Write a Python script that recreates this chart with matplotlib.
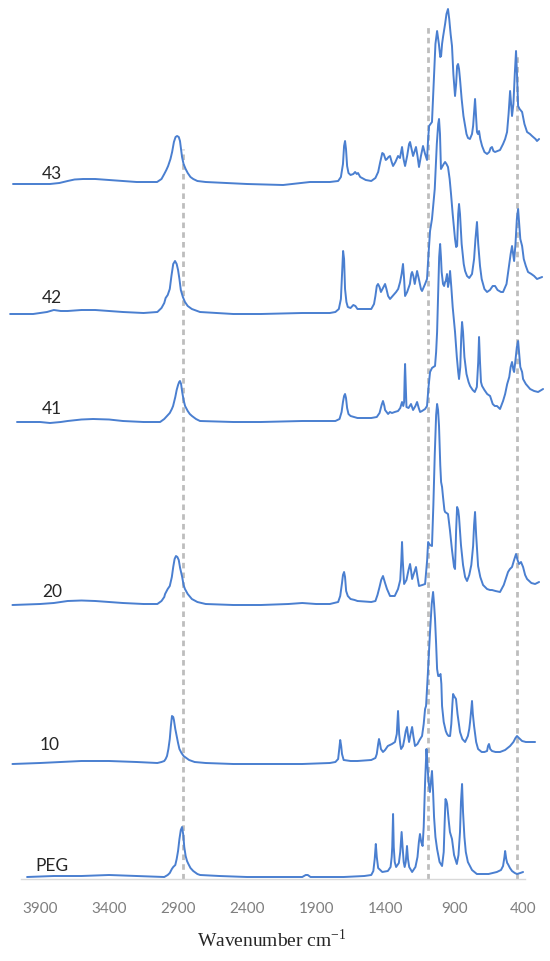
import matplotlib
matplotlib.use("Agg")
import matplotlib.pyplot as plt
import numpy as np

# =========================
# data (wavenumber cm-1, intensity a.u.)
# =========================
wn_43 = [4096, 3900, 3828, 3760, 3700, 3650, 3588, 3500, 3400, 3300, 3200, 3100, 3052, 3020, 3000, 2985, 2972,
         2955, 2943, 2930, 2918, 2907, 2895, 2886, 2878, 2871, 2860, 2845, 2830, 2810, 2790, 2760, 2700,
         2400, 2139, 1944, 1800, 1740, 1720, 1705, 1697, 1690, 1683, 1675, 1665, 1650, 1630, 1617, 1605,
         1596, 1580, 1540, 1500, 1470, 1450, 1435, 1420, 1410, 1395, 1386, 1375, 1364, 1352, 1342, 1325,
         1306, 1292, 1277, 1266, 1255, 1240, 1226, 1219, 1208, 1197, 1185, 1176, 1165, 1154, 1140, 1125,
         1110, 1096, 1088, 1081, 1070, 1060, 1048, 1035, 1023, 1010, 1000, 994, 987, 980, 965, 955, 944,
         935, 925, 915, 905, 893, 885, 878, 871, 864, 857, 845, 832, 820, 810, 799, 785, 770, 762, 755,
         748, 742, 734, 727, 719, 710, 697, 680, 661, 645, 635, 625, 615, 603, 585, 567, 545, 530, 516,
         505, 494, 487, 480, 470, 460, 451, 444, 436, 425, 407, 390, 371, 350, 335, 310, 299, 284]
ab_43 = [0, 0, 0, 1, 3, 4.5, 5, 5, 4, 3, 2, 2, 2, 5, 10, 14, 18,
         25, 32, 42, 47, 48, 47, 43, 34, 27, 20, 15, 11, 7, 5, 3, 2,
         0, -1, 2, 2, 3, 7, 20, 38, 43, 35, 18, 11, 9, 10, 12, 10,
         11, 7, 4, 3, 6, 12, 22, 31, 30, 24, 25, 27, 28, 22, 18, 22,
         28, 26, 37, 25, 18, 28, 40, 42, 35, 28, 33, 37, 28, 17, 28, 38,
         30, 24, 45, 58, 60, 62, 100, 140, 153, 140, 127, 128, 140, 147, 160, 170, 175,
         165, 150, 138, 110, 88, 100, 118, 120, 115, 105, 85, 68, 58, 50, 46, 45, 50, 58, 72,
         85, 70, 52, 50, 53, 45, 38, 32, 30, 32, 36, 37, 33, 32, 33, 34, 40, 45, 52,
         70, 93, 80, 68, 80, 110, 133, 110, 78, 75, 72, 60, 52, 50, 48, 45, 43, 45]

wn_42 = [4117, 3950, 3850, 3800, 3750, 3700, 3600, 3500, 3400, 3300, 3150, 3050, 3020, 3000, 2990, 2975, 2960,
         2948, 2935, 2922, 2910, 2900, 2890, 2880, 2865, 2850, 2830, 2800, 2741, 2500, 2300, 2000, 1800,
         1760, 1735, 1720, 1712, 1704, 1697, 1690, 1680, 1670, 1650, 1630, 1615, 1600, 1500, 1480, 1470,
         1460, 1451, 1440, 1430, 1415, 1400, 1390, 1378, 1364, 1345, 1320, 1305, 1291, 1280, 1270, 1262,
         1255, 1240, 1220, 1210, 1204, 1195, 1185, 1175, 1168, 1155, 1140, 1132, 1110, 1096, 1085, 1074,
         1060, 1050, 1040, 1025, 1015, 1009, 1002, 995, 987, 975, 965, 955, 944, 932, 922, 910, 900, 893,
         885, 878, 870, 864, 857, 845, 830, 820, 806, 790, 770, 755, 745, 734, 725, 712, 700, 680, 661,
         640, 620, 603, 585, 560, 545, 520, 500, 490, 480, 470, 465, 455, 445, 436, 428, 420, 407, 395,
         380, 364, 340, 320, 299, 262]
ab_42 = [0, 0, 2, 4, 3, 3, 4, 4, 3, 2, 1, 2, 6, 11, 16, 19, 25,
         38, 50, 53, 50, 44, 35, 24, 17, 12, 8, 5, 2, 0, 0, 1, 1,
         2, 5, 15, 40, 63, 55, 25, 12, 7, 6, 9, 8, 5, 5, 10, 18,
         28, 30, 27, 22, 26, 30, 25, 18, 15, 18, 22, 25, 32, 40, 50, 35,
         18, 22, 30, 40, 42, 38, 30, 38, 43, 35, 25, 23, 30, 35, 60, 83,
         95, 110, 125, 170, 190, 195, 180, 145, 147, 150, 152, 150, 147, 135, 120, 100, 85, 75,
         67, 68, 100, 110, 100, 70, 50, 43, 38, 36, 40, 55, 75, 92, 70, 48, 35, 25, 22,
         24, 28, 28, 24, 22, 22, 30, 50, 60, 68, 58, 53, 70, 95, 105, 90, 75, 68, 55,
         48, 42, 40, 38, 35, 37]

wn_41 = [4067, 3900, 3828, 3750, 3700, 3600, 3516, 3400, 3300, 3150, 3030, 3000, 2980, 2960, 2945, 2936, 2920,
         2910, 2900, 2892, 2886, 2878, 2870, 2860, 2849, 2830, 2815, 2799, 2770, 2741, 2500, 2300, 2000,
         1760, 1730, 1715, 1705, 1697, 1690, 1683, 1675, 1665, 1650, 1600, 1500, 1460, 1440, 1425, 1415,
         1405, 1400, 1378, 1365, 1350, 1330, 1306, 1290, 1277, 1268, 1262, 1258, 1255, 1252, 1245, 1230,
         1212, 1197, 1180, 1168, 1156, 1146, 1132, 1110, 1096, 1085, 1074, 1060, 1050, 1038, 1030, 1023,
         1015, 1008, 1001, 995, 990, 980, 972, 965, 960, 951, 944, 937, 929, 920, 910, 900, 893, 880,
         870, 864, 855, 848, 842, 835, 825, 810, 795, 784, 765, 750, 735, 725, 719, 712, 705, 697, 680,
         660, 639, 620, 605, 589, 567, 545, 530, 515, 500, 490, 480, 470, 465, 455, 445, 436, 428, 420,
         407, 400, 380, 349, 320, 291, 255]
ab_41 = [0, 0, -1, 0, 1, 2.5, 3, 2.5, 1, 0, 0, 3, 6, 9, 13, 16, 25,
         32, 37, 40, 41, 38, 30, 22, 16, 11, 8, 6, 3, 1, 0, 0, 1,
         1, 3, 10, 20, 26, 28, 24, 14, 8, 6, 4, 4, 5, 9, 17, 21,
         16, 12, 8, 10, 9, 10, 11, 14, 20, 16, 20, 45, 58, 45, 15, 14,
         18, 12, 16, 20, 14, 10, 11, 13, 16, 35, 50, 54, 55, 56, 70, 90,
         130, 165, 178, 165, 150, 138, 136, 140, 141, 148, 135, 140, 151, 135, 115, 100, 90, 65,
         50, 43, 55, 85, 100, 90, 65, 48, 40, 36, 32, 30, 35, 60, 85, 60, 40, 36, 32,
         28, 26, 18, 16, 16, 13, 21, 28, 38, 45, 55, 60, 52, 50, 62, 75, 81, 68, 55,
         50, 43, 38, 33, 31, 30, 33]

wn_20 = [4100, 3900, 3800, 3700, 3600, 3500, 3400, 3300, 3150, 3050, 3020, 3000, 2994, 2975, 2960, 2945, 2935,
         2925, 2915, 2905, 2895, 2885, 2870, 2860, 2850, 2830, 2800, 2760, 2700, 2500, 2300, 2100, 2000,
         1900, 1800, 1740, 1725, 1712, 1705, 1697, 1690, 1682, 1670, 1650, 1620, 1600, 1500, 1470, 1455,
         1440, 1428, 1415, 1400, 1386, 1364, 1330, 1306, 1290, 1282, 1277, 1272, 1262, 1245, 1230, 1219,
         1212, 1204, 1190, 1176, 1165, 1154, 1130, 1110, 1095, 1088, 1075, 1060, 1050, 1040, 1030, 1023,
         1016, 1009, 1000, 994, 987, 980, 970, 965, 955, 944, 930, 915, 900, 893, 885, 878, 870, 864,
         850, 835, 820, 806, 790, 775, 762, 755, 748, 740, 726, 710, 690, 661, 640, 625, 600, 567, 540,
         509, 495, 480, 465, 451, 440, 429, 415, 400, 385, 371, 340, 313, 284]
ab_20 = [0, 1, 2, 4, 4.5, 4, 3, 2, 1, 1, 4, 8, 11, 16, 19, 28, 38,
         46, 49, 48, 45, 37, 28, 20, 16, 11, 6, 3, 1, 0, 0, 1, 2,
         1, 1, 3, 9, 22, 30, 33, 28, 14, 9, 6, 5, 4, 3, 4, 10,
         18, 25, 29, 22, 16, 9, 9, 16, 25, 45, 63, 45, 21, 25, 35, 41,
         35, 26, 32, 38, 28, 19, 20, 21, 45, 63, 60, 59, 100, 150, 190, 201,
         195, 179, 140, 123, 118, 108, 95, 93, 92, 91, 75, 55, 38, 36, 75, 98, 95, 88,
         60, 40, 28, 24, 30, 40, 59, 80, 93, 70, 39, 28, 20, 16, 15, 15, 14, 13, 20,
         33, 36, 38, 45, 51, 45, 41, 43, 38, 30, 26, 22, 21, 23]

wn_10 = [4100, 3900, 3750, 3600, 3400, 3200, 3050, 3020, 3000, 2990, 2980, 2970, 2960, 2952, 2944, 2935, 2930,
         2920, 2910, 2900, 2890, 2875, 2860, 2840, 2820, 2780, 2700, 2500, 2000, 1800, 1760, 1740, 1732,
         1725, 1718, 1712, 1700, 1650, 1600, 1500, 1470, 1460, 1450, 1444, 1436, 1430, 1415, 1400, 1380,
         1350, 1328, 1315, 1306, 1298, 1290, 1284, 1270, 1260, 1250, 1241, 1233, 1226, 1215, 1204, 1195,
         1183, 1165, 1150, 1132, 1120, 1110, 1103, 1090, 1075, 1062, 1052, 1045, 1038, 1030, 1023, 1015,
         1009, 998, 992, 987, 975, 960, 951, 940, 929, 920, 912, 907, 900, 886, 875, 857, 840, 820, 800,
         790, 784, 775, 770, 764, 755, 740, 726, 700, 680, 661, 654, 647, 638, 625, 600, 567, 530, 494,
         470, 455, 444, 430, 407, 380, 340, 313]
ab_10 = [0, 1, 2, 3, 3, 2, 1, 2, 3, 5, 8, 15, 25, 38, 48, 47, 44,
         35, 28, 21, 15, 11, 8, 6, 4, 2, 1, 0, 0, 1, 2, 5, 15,
         24, 18, 10, 4, 3, 3, 4, 6, 10, 20, 25, 20, 15, 12, 14, 18,
         20, 22, 30, 53, 30, 20, 15, 18, 25, 33, 37, 28, 22, 30, 37, 28,
         18, 20, 24, 28, 40, 55, 58, 90, 130, 160, 172, 160, 145, 120, 95, 88,
         88, 90, 80, 58, 42, 33, 30, 28, 28, 40, 60, 70, 68, 65, 50, 32, 25, 22, 28,
         35, 42, 55, 63, 50, 38, 22, 15, 12, 12, 13, 18, 20, 15, 13, 12, 12, 14, 18,
         22, 26, 28, 26, 23, 22, 22, 22]

wn_peg = [3994, 3800, 3600, 3400, 3200, 3000, 2975, 2960, 2945, 2935, 2920, 2910, 2900, 2890, 2880, 2871, 2862,
          2855, 2845, 2835, 2825, 2810, 2790, 2760, 2740, 2600, 2400, 2000, 1975, 1960, 1940, 1700, 1550,
          1500, 1485, 1475, 1467, 1460, 1450, 1420, 1380, 1360, 1352, 1348, 1342, 1337, 1330, 1320, 1300,
          1290, 1280, 1273, 1265, 1258, 1250, 1241, 1234, 1225, 1204, 1180, 1165, 1155, 1147, 1138, 1128,
          1120, 1110, 1100, 1092, 1085, 1075, 1068, 1060, 1052, 1045, 1035, 1023, 1005, 987, 975, 968, 962,
          955, 950, 940, 930, 915, 900, 880, 868, 857, 850, 842, 835, 825, 815, 800, 770, 735, 650, 590,
          560, 545, 535, 530, 522, 515, 510, 495, 480, 460, 444, 420, 400]
ab_peg = [0, 1, 1, 2, 1, 0, 2, 4, 8, 10, 12, 18, 26, 38, 47, 50, 42,
          30, 21, 16, 13, 9, 6, 3, 2, 1, 0, 0, 2, 2, 0, 0, 1,
          2, 6, 18, 33, 20, 9, 5, 6, 10, 20, 30, 63, 30, 15, 10, 14,
          25, 45, 30, 15, 10, 15, 31, 18, 10, 5, 10, 20, 35, 43, 35, 31,
          50, 95, 128, 110, 95, 85, 95, 106, 85, 60, 40, 28, 15, 11, 25, 55, 78,
          76, 73, 58, 45, 38, 22, 13, 22, 45, 75, 93, 65, 40, 25, 15, 7, 3, 3, 5,
          7, 11, 20, 26, 18, 14, 13, 9, 6, 4, 3, 4, 5]

labels = ["43", "42", "41", "20", "10", "PEG"]
xticks = [3900, 3400, 2900, 2400, 1900, 1400, 900, 400]
marker_wn = [2864, 1088, 443]

# =========================
# layout (pixels of a 550x962 canvas)
# =========================
W, H = 550, 962
offsets = [695, 565, 457, 274, 115, 2]
label_px = [(52, 174), (52, 298), (52, 409), (52, 592), (50, 745), (52, 866)]
marker_top = [730, 852, 825]
line_color = "#4a7fd0"

fig = plt.figure(figsize=(W / 100, H / 100), dpi=100)
ax = fig.add_axes([21 / W, 1 - 880 / H, 504 / W, 880 / H])

spectra = [(wn_43, ab_43), (wn_42, ab_42), (wn_41, ab_41),
           (wn_20, ab_20), (wn_10, ab_10), (wn_peg, ab_peg)]

for x, top in zip(marker_wn, marker_top):
    ax.plot([x, x], [0, top], color="#bdbdbd", lw=2, ls=(0, (2, 1.5)), zorder=1)

for (wn, ab), off in zip(spectra, offsets):
    ax.plot(wn, np.array(ab) + off, color=line_color, lw=1.4, clip_on=False, zorder=2,
            solid_joinstyle="round", solid_capstyle="round")

ax.set_xlim(4038, 386)
ax.set_ylim(0, 880)

for s in ["top", "left", "right"]:
    ax.spines[s].set_visible(False)
ax.spines["bottom"].set_color("#d9d9d9")
ax.spines["bottom"].set_linewidth(1)
ax.set_yticks([])
ax.set_xticks(xticks)
ax.set_xticklabels([str(t) for t in xticks], family="Lato", fontsize=11, color="#7f7f7f")
ax.tick_params(axis="x", length=0, pad=16)
ax.patch.set_alpha(0)

for lab, (px, py) in zip(labels, label_px):
    fig.text(px / W, 1 - py / H, lab, ha="center", va="center",
             family="Lato", fontsize=12.5, color="#262626")

fig.text(272 / W, 1 - 940 / H, "Wavenumber cm$^{\\mathregular{-1}}$", ha="center", va="center",
         family="Liberation Serif", fontsize=14, color="#262626")

fig.savefig("out.png", dpi=100)
